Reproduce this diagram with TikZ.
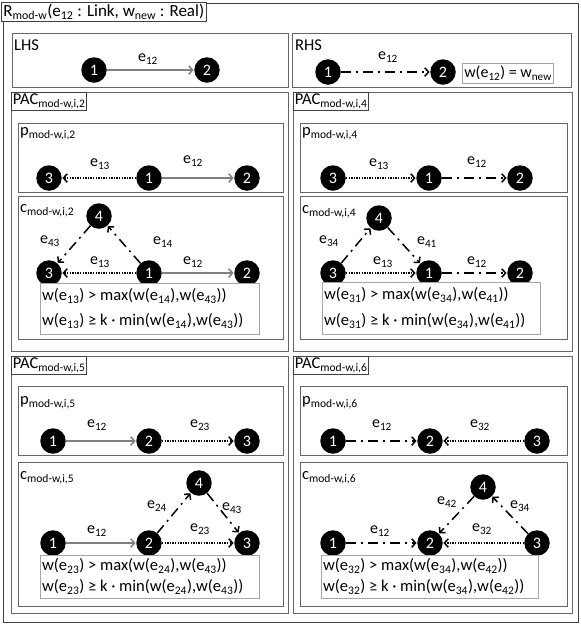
\documentclass[tikz,border=0pt]{standalone}
\usepackage{fontspec}
\setmainfont{Carlito}
\usetikzlibrary{arrows.meta}
\begin{document}
\begin{tikzpicture}[x=1pt,y=-1pt,
  nd/.style={circle, fill=black, text=white, minimum size=25.5pt, inner sep=0pt, font=\fontsize{16}{16}\selectfont},
  frame/.style={draw=black!60, line width=0.9pt},
  outer/.style={draw=black!75, line width=0.9pt},
  tab/.style={draw=black!75, fill=white, line width=0.8pt, inner sep=1.5pt, anchor=north west, font=\fontsize{16.5}{16.5}\selectfont},
  boxlbl/.style={anchor=west, inner sep=0pt, font=\fontsize{16.5}{16.5}\selectfont},
  lbl/.style={inner sep=0pt, font=\fontsize{16}{16}\selectfont},
  cons/.style={draw=black!35, line width=0.8pt, fill=white},
  constext/.style={anchor=west, inner sep=0pt, font=\fontsize{16.5}{16.5}\selectfont},
  tip/.style={-{Straight Barb[length=3.8pt,width=8.5pt]}},
  gedge/.style={draw=black!50, line width=1.5pt, tip, shorten >=0.5pt},
  dd/.style={draw=black, line width=1.5pt, dash pattern=on 10pt off 5pt on 2pt off 5pt, tip, shorten >=0.5pt},
  dotted/.style={draw=black, line width=1.5pt, dash pattern=on 1.4pt off 1.2pt, tip, shorten >=0.5pt}
]
\useasboundingbox (0,0) rectangle (581,625);
\fill[white] (0,0) rectangle (581,625);
% outer frame
\draw[outer] (3,3) rectangle (578,622);
\node[tab, inner sep=2pt, font=\fontsize{17}{17}\selectfont] (title) at (1,2) {R\textsubscript{mod-w}(e\textsubscript{12} : Link, w\textsubscript{new} : Real)};

% LHS
\draw[frame] (12,33) rectangle (288,87);
\node[boxlbl] (lhs) at (14,45) {LHS};
\node[nd] (l1) at (94,70) {1};
\node[nd] (l2) at (207,70) {2};
\draw[gedge] (l1) -- (l2);
\node[lbl] (le12) at (148,59) {e\textsubscript{12}};

% RHS
\draw[frame] (292,33) rectangle (571,87);
\node[boxlbl] (rhs) at (295,45) {RHS};
\node[nd] (r1) at (328,72) {1};
\node[nd] (r2) at (443,72) {2};
\draw[dd] (r1) -- (r2);
\node[lbl] (re12) at (388,57) {e\textsubscript{12}};
\node[cons, inner sep=2pt, font=\fontsize{16}{16}\selectfont, minimum height=20pt] (rc) at (508,73) {w(e\textsubscript{12}) = w\textsubscript{new}};

% ---------- PAC 2 ----------
\draw[frame] (11,92) rectangle (288,351);
\node[tab] (t2) at (11,92) {PAC\textsubscript{mod-w,i,2}};
\draw[frame] (18,123) rectangle (283,192);
\node[boxlbl] (p2l) at (20,134) {p\textsubscript{mod-w,i,2}};
\node[nd] (p2n3) at (49,178) {3};
\node[nd] (p2n1) at (149,178) {1};
\node[nd] (p2n2) at (247,178) {2};
\draw[dotted] (p2n1) -- (p2n3);
\draw[gedge] (p2n1) -- (p2n2);
\node[lbl] (p2e13) at (100,164) {e\textsubscript{13}};
\node[lbl] (p2e12) at (193,161) {e\textsubscript{12}};

\draw[frame] (18,196) rectangle (283,339);
\node[boxlbl] (c2l) at (20,211) {c\textsubscript{mod-w,i,2}};
\node[nd] (c2n4) at (99,216) {4};
\node[nd] (c2n3) at (49,273) {3};
\node[nd] (c2n1) at (149,273) {1};
\node[nd] (c2n2) at (247,273) {2};
\draw[dd] (c2n4) -- (c2n3);
\draw[dd] (c2n1) -- (c2n4);
\draw[dotted] (c2n1) -- (c2n3);
\draw[gedge] (c2n1) -- (c2n2);
\node[lbl] (c2e43) at (50,241) {e\textsubscript{43}};
\node[lbl] (c2e14) at (163,242) {e\textsubscript{14}};
\node[lbl] (c2e13) at (100,262) {e\textsubscript{13}};
\node[lbl] (c2e12) at (193,262) {e\textsubscript{12}};
\draw[cons] (40,283) rectangle (259,334);
\node[constext] (c2k1) at (42,296) {w(e\textsubscript{13}) > max(w(e\textsubscript{14}),w(e\textsubscript{43}))};
\node[constext] (c2k2) at (42,321) {w(e\textsubscript{13}) ≥ k · min(w(e\textsubscript{14}),w(e\textsubscript{43}))};

% ---------- PAC 4 ----------
\draw[frame] (293,92) rectangle (572,351);
\node[tab] (t4) at (293,92) {PAC\textsubscript{mod-w,i,4}};
\draw[frame] (300,123) rectangle (567,192);
\node[boxlbl] (p4l) at (302,134) {p\textsubscript{mod-w,i,4}};
\node[nd] (p4n3) at (333,178) {3};
\node[nd] (p4n1) at (429,178) {1};
\node[nd] (p4n2) at (520,178) {2};
\draw[dotted] (p4n3) -- (p4n1);
\draw[dd] (p4n1) -- (p4n2);
\node[lbl] (p4e13) at (379,164) {e\textsubscript{13}};
\node[lbl] (p4e12) at (477,162) {e\textsubscript{12}};

\draw[frame] (300,196) rectangle (567,339);
\node[boxlbl] (c4l) at (302,212) {c\textsubscript{mod-w,i,4}};
\node[nd] (c4n4) at (379,218) {4};
\node[nd] (c4n3) at (333,273) {3};
\node[nd] (c4n1) at (429,273) {1};
\node[nd] (c4n2) at (520,273) {2};
\draw[dd] (c4n3) -- (c4n4);
\draw[dd] (c4n4) -- (c4n1);
\draw[dotted] (c4n3) -- (c4n1);
\draw[dd] (c4n1) -- (c4n2);
\node[lbl] (c4e34) at (329,241) {e\textsubscript{34}};
\node[lbl] (c4e41) at (427,242) {e\textsubscript{41}};
\node[lbl] (c4e13) at (383,262) {e\textsubscript{13}};
\node[lbl] (c4e12) at (477,262) {e\textsubscript{12}};
\draw[cons] (322,282) rectangle (540,334);
\node[constext] (c4k1) at (324,295) {w(e\textsubscript{31}) > max(w(e\textsubscript{34}),w(e\textsubscript{41}))};
\node[constext] (c4k2) at (324,321) {w(e\textsubscript{31}) ≥ k · min(w(e\textsubscript{34}),w(e\textsubscript{41}))};

% ---------- PAC 5 ----------
\draw[frame] (11,356) rectangle (288,613);
\node[tab] (t5) at (11,356) {PAC\textsubscript{mod-w,i,5}};
\draw[frame] (18,386) rectangle (283,455);
\node[boxlbl] (p5l) at (20,403) {p\textsubscript{mod-w,i,5}};
\node[nd] (p5n1) at (53,441) {1};
\node[nd] (p5n2) at (149,441) {2};
\node[nd] (p5n3) at (247,441) {3};
\draw[gedge] (p5n1) -- (p5n2);
\draw[dotted] (p5n2) -- (p5n3);
\node[lbl] (p5e12) at (97,425) {e\textsubscript{12}};
\node[lbl] (p5e23) at (200,425) {e\textsubscript{23}};

\draw[frame] (18,462) rectangle (283,606);
\node[boxlbl] (c5l) at (20,478) {c\textsubscript{mod-w,i,5}};
\node[nd] (c5n4) at (199,483) {4};
\node[nd] (c5n1) at (53,543) {1};
\node[nd] (c5n2) at (149,543) {2};
\node[nd] (c5n3) at (247,543) {3};
\draw[gedge] (c5n1) -- (c5n2);
\draw[dd] (c5n2) -- (c5n4);
\draw[dd] (c5n4) -- (c5n3);
\draw[dotted] (c5n2) -- (c5n3);
\node[lbl] (c5e24) at (157,506) {e\textsubscript{24}};
\node[lbl] (c5e43) at (232,508) {e\textsubscript{43}};
\node[lbl] (c5e12) at (97,531) {e\textsubscript{12}};
\node[lbl] (c5e23) at (200,529) {e\textsubscript{23}};
\draw[cons] (40,555) rectangle (259,598);
\node[constext] (c5k1) at (42,566) {w(e\textsubscript{23}) > max(w(e\textsubscript{24}),w(e\textsubscript{43}))};
\node[constext] (c5k2) at (42,587) {w(e\textsubscript{23}) ≥ k · min(w(e\textsubscript{24}),w(e\textsubscript{43}))};

% ---------- PAC 6 ----------
\draw[frame] (293,356) rectangle (572,613);
\node[tab] (t6) at (293,356) {PAC\textsubscript{mod-w,i,6}};
\draw[frame] (300,386) rectangle (567,455);
\node[boxlbl] (p6l) at (302,403) {p\textsubscript{mod-w,i,6}};
\node[nd] (p6n1) at (333,441) {1};
\node[nd] (p6n2) at (430,441) {2};
\node[nd] (p6n3) at (537,441) {3};
\draw[dd] (p6n1) -- (p6n2);
\draw[dotted] (p6n3) -- (p6n2);
\node[lbl] (p6e12) at (382,425) {e\textsubscript{12}};
\node[lbl] (p6e32) at (480,425) {e\textsubscript{32}};

\draw[frame] (300,462) rectangle (567,606);
\node[boxlbl] (c6l) at (302,478) {c\textsubscript{mod-w,i,6}};
\node[nd] (c6n4) at (483,487) {4};
\node[nd] (c6n1) at (333,543) {1};
\node[nd] (c6n2) at (430,543) {2};
\node[nd] (c6n3) at (537,543) {3};
\draw[dd] (c6n1) -- (c6n2);
\draw[dd] (c6n3) -- (c6n4);
\draw[dd] (c6n4) -- (c6n2);
\draw[dotted] (c6n3) -- (c6n2);
\node[lbl] (c6e42) at (447,502) {e\textsubscript{42}};
\node[lbl] (c6e34) at (520,506) {e\textsubscript{34}};
\node[lbl] (c6e12) at (380,531) {e\textsubscript{12}};
\node[lbl] (c6e32) at (482,529) {e\textsubscript{32}};
\draw[cons] (321,555) rectangle (538,598);
\node[constext] (c6k1) at (323,566) {w(e\textsubscript{32}) > max(w(e\textsubscript{34}),w(e\textsubscript{42}))};
\node[constext] (c6k2) at (323,587) {w(e\textsubscript{32}) ≥ k · min(w(e\textsubscript{34}),w(e\textsubscript{42}))};
\end{tikzpicture}
\end{document}
